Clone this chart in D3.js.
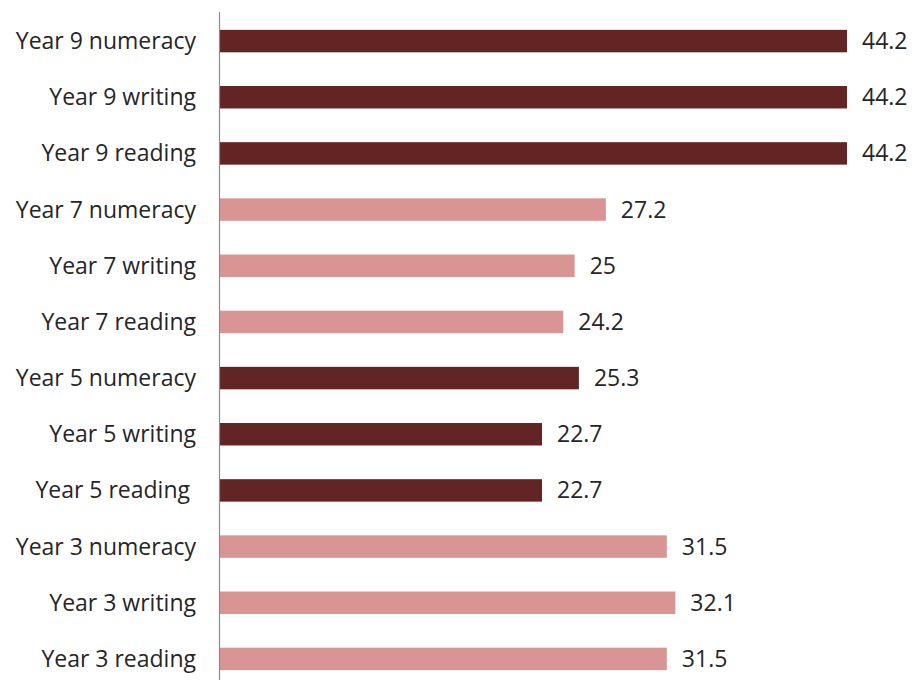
<!DOCTYPE html>
<html>
<head>
<meta charset="utf-8">
<script src="https://cdn.jsdelivr.net/npm/d3@7"></script>
<style>
  body { margin: 0; background: #fff; }
  text { font-family: "Open Sans", sans-serif; fill: #262626; }
</style>
</head>
<body>
<div id="chart"></div>
<script>
// categories, top to bottom
var categories = ["Year 9 numeracy", "Year 9 writing", "Year 9 reading",
                  "Year 7 numeracy", "Year 7 writing", "Year 7 reading",
                  "Year 5 numeracy", "Year 5 writing", "Year 5 reading ",
                  "Year 3 numeracy", "Year 3 writing", "Year 3 reading"];
var values = [44.2, 44.2, 44.2, 27.2, 25, 24.2, 25.3, 22.7, 22.7, 31.5, 32.1, 31.5];
var valueLabels = ["44.2", "44.2", "44.2", "27.2", "25", "24.2", "25.3", "22.7", "22.7", "31.5", "32.1", "31.5"];
var groups = ["y9", "y9", "y9", "y7", "y7", "y7", "y5", "y5", "y5", "y3", "y3", "y3"];

var width = 915, height = 680;
var x0 = 220;

var colour = d3.scaleOrdinal()
    .domain(["y9", "y7", "y5", "y3"])
    .range(["#632523", "#d99594", "#632523", "#d99594"]);

var x = d3.scaleLinear()
    .domain([0, 44.2])
    .range([x0, 847]);

var y = d3.scaleBand()
    .domain(d3.range(categories.length))
    .range([13, 687])
    .paddingInner(0.6)
    .paddingOuter(0.3);

var svg = d3.select("#chart").append("svg")
    .attr("width", width)
    .attr("height", height);

svg.selectAll("rect.bar")
   .data(values)
   .enter()
   .append("rect")
   .attr("class", "bar")
   .attr("x", x(0))
   .attr("y", function(d, i) { return y(i); })
   .attr("width", function(d) { return x(d) - x(0); })
   .attr("height", y.bandwidth())
   .attr("fill", function(d, i) { return colour(groups[i]); });

// category labels
svg.selectAll("text.cat")
   .data(categories)
   .enter()
   .append("text")
   .attr("class", "cat")
   .attr("x", 196)
   .attr("y", function(d, i) { return y(i) + y.bandwidth() / 2; })
   .attr("dy", "0.35em")
   .attr("text-anchor", "end")
   .style("font-size", "23px")
   .style("white-space", "pre")
   .text(function(d) { return d; });

// value labels
svg.selectAll("text.val")
   .data(values)
   .enter()
   .append("text")
   .attr("class", "val")
   .attr("x", function(d) { return x(d) + 15; })
   .attr("y", function(d, i) { return y(i) + y.bandwidth() / 2; })
   .attr("dy", "0.35em")
   .style("font-size", "23px")
   .text(function(d, i) { return valueLabels[i]; });

// vertical axis line
svg.append("line")
   .attr("x1", x0 - 0.5).attr("x2", x0 - 0.5)
   .attr("y1", 12).attr("y2", height)
   .attr("stroke", "#8c8c8c")
   .attr("stroke-width", 1.2);
</script>
</body>
</html>
